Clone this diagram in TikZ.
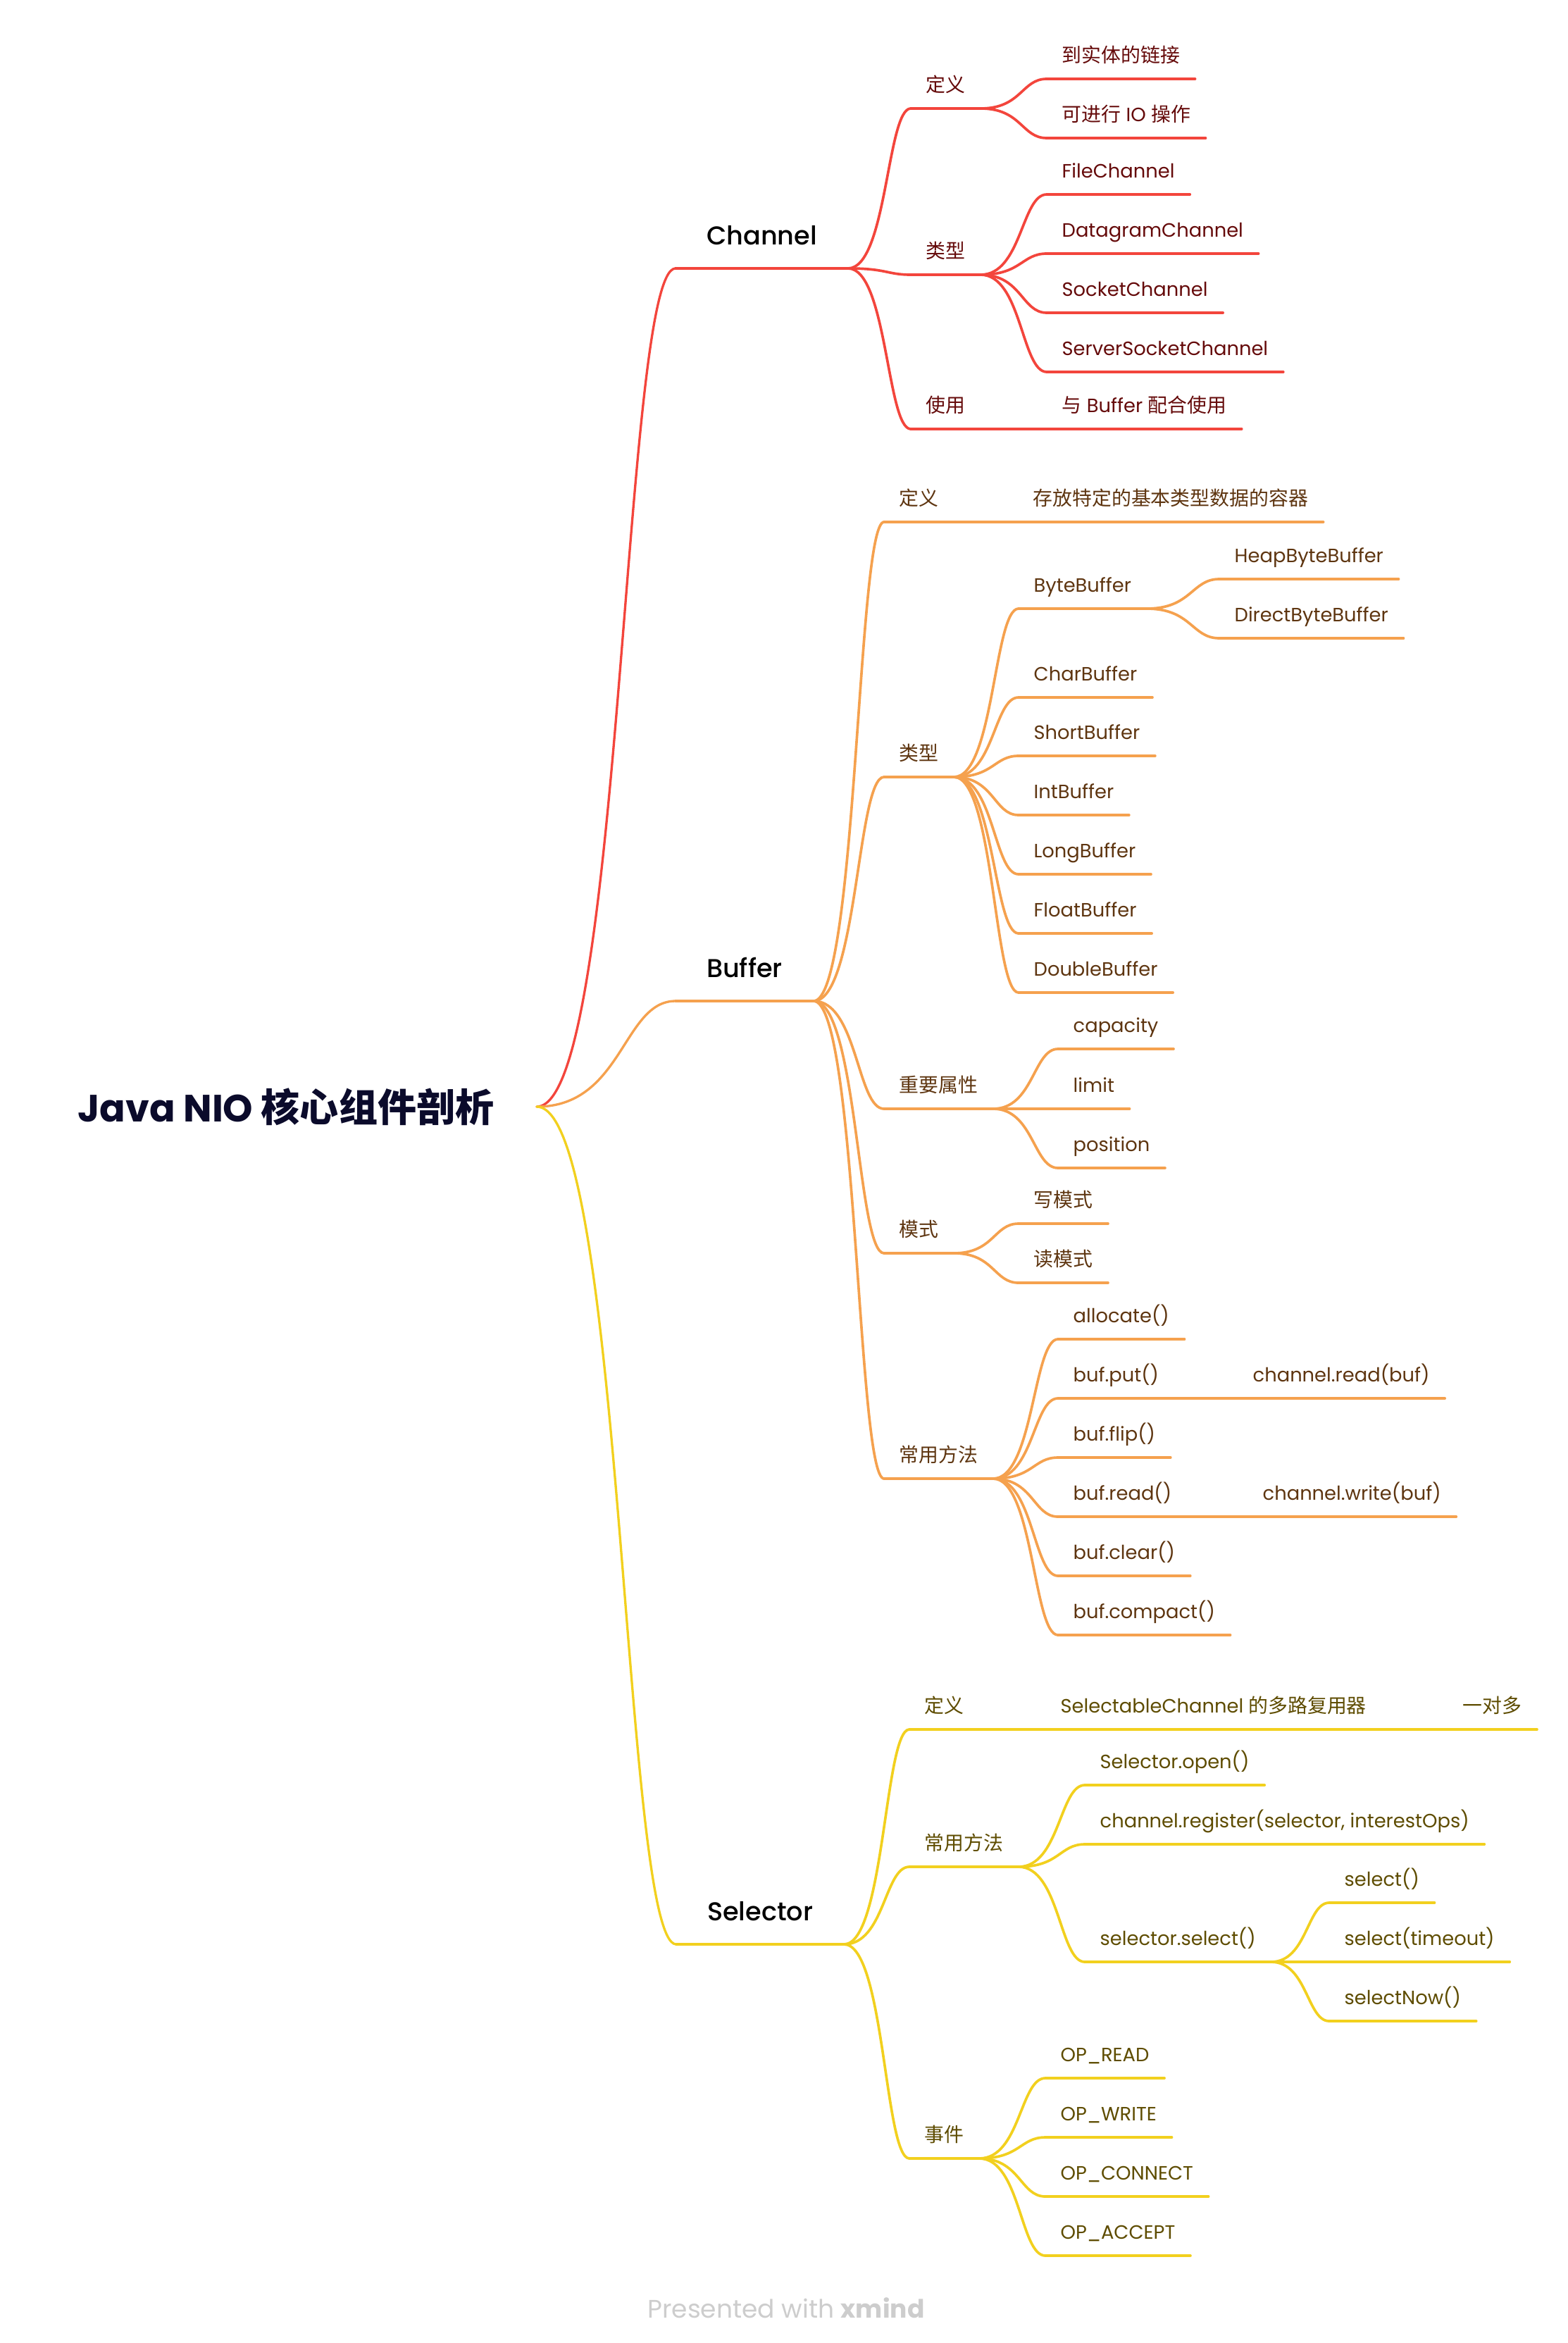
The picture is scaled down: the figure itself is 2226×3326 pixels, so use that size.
\documentclass[tikz,border=0pt]{standalone}
\usepackage{fontspec}
\setmainfont{Poppins}
\newfontfamily\cjk{Noto Sans CJK SC}[Scale=1.02]
\newfontfamily\medfont{Poppins Medium}
\usetikzlibrary{calc}
\definecolor{chred}{HTML}{F3453C}
\definecolor{chtxt}{HTML}{650A0A}
\definecolor{bforange}{HTML}{F5A14E}
\definecolor{bftxt}{HTML}{5E3510}
\definecolor{slyellow}{HTML}{F2D01E}
\definecolor{sltxt}{HTML}{5E4C00}
\definecolor{roottxt}{HTML}{0B0B2B}
\definecolor{footgray}{HTML}{CDCDCD}
\newcommand{\zh}[1]{{\cjk #1}}
\tikzset{
  branch/.style={to path={let \p1=(\tikztostart),\p2=(\tikztotarget) in
    .. controls ({0.38*\x1+0.62*\x2},\y1) and ({0.38*\x1+0.62*\x2},\y2) .. (\tikztotarget)}},
  wire/.style={line width=1.1pt,line cap=round},
  rootnode/.style={anchor=east,inner xsep=18pt,font=\fontsize{16.2}{19}\selectfont\bfseries,text=roottxt},
  mainnode/.style={anchor=south west,inner xsep=13pt,inner ysep=0pt,text height=8pt,text depth=9.9pt,font=\fontsize{11}{13}\medfont},
  subnode/.style={anchor=south west,inner xsep=6.3pt,inner ysep=0pt,text height=6.5pt,text depth=6.9pt,font=\fontsize{8.2}{10}\selectfont},
}
\begin{document}
\begin{tikzpicture}[x=0.3pt,y=-0.3pt]
\fill[white] (0,0) rectangle (2226,3326);
\useasboundingbox (0,0) rectangle (2226,3326);

\node[rootnode] (root) at (762,1571) {Java NIO \zh{核心组件剖析}};
\node[mainnode] (chan) at (959,381) {Channel};
\node[mainnode] (buf) at (959,1421) {Buffer};
\node[mainnode] (sel) at (960,2760) {Selector};

% Channel
\begin{scope}[every node/.append style={subnode,text=chtxt}]
\node (cDef) at (1293,154) {\zh{定义}};
\node (cTyp) at (1293,390) {\zh{类型}};
\node (cUse) at (1293,609) {\zh{使用}};
\node (cLink) at (1486,112) {\zh{到实体的链接}};
\node (cIO) at (1486,196) {\zh{可进行} IO \zh{操作}};
\node (cFile) at (1486,276) {FileChannel};
\node (cDgram) at (1486,360) {DatagramChannel};
\node (cSock) at (1486,444) {SocketChannel};
\node (cSrv) at (1486,528) {ServerSocketChannel};
\node (cWith) at (1486,609) {\zh{与} Buffer \zh{配合使用}};
\end{scope}
\foreach \n in {chan,cDef,cTyp,cUse,cLink,cIO,cFile,cDgram,cSock,cSrv,cWith}
  \draw[wire,chred] (\n.south west) -- (\n.south east);
\draw[wire,chred,line width=1pt] (root.east) to[branch] (chan.south west);
\foreach \a/\b in {chan/cDef,chan/cTyp,chan/cUse,cDef/cLink,cDef/cIO,cTyp/cFile,cTyp/cDgram,cTyp/cSock,cTyp/cSrv,cUse/cWith}
  \draw[wire,chred] (\a.south east) to[branch] (\b.south west);

% Buffer
\begin{scope}[every node/.append style={subnode,text=bftxt}]
\node (bDef) at (1255,741) {\zh{定义}};
\node (bTyp) at (1255,1103) {\zh{类型}};
\node (bAttr) at (1255,1574) {\zh{重要属性}};
\node (bMode) at (1255,1779) {\zh{模式}};
\node (bOps) at (1255,2099) {\zh{常用方法}};
\node (bBox) at (1445,741) {\zh{存放特定的基本类型数据的容器}};
\node (bByte) at (1446,864) {ByteBuffer};
\node (bHeap) at (1731,822) {HeapByteBuffer};
\node (bDirect) at (1731,906) {DirectByteBuffer};
\node (bChar) at (1446,990) {CharBuffer};
\node (bShort) at (1446,1073) {ShortBuffer};
\node (bInt) at (1446,1157) {IntBuffer};
\node (bLong) at (1446,1241) {LongBuffer};
\node (bFloat) at (1446,1325) {FloatBuffer};
\node (bDouble) at (1446,1409) {DoubleBuffer};
\node (bCap) at (1502,1489) {capacity};
\node (bLim) at (1502,1574) {limit};
\node (bPos) at (1502,1658) {position};
\node (bWr) at (1446,1737) {\zh{写模式}};
\node (bRd) at (1446,1821) {\zh{读模式}};
\node (bAlloc) at (1502,1901) {allocate()};
\node (bPut) at (1502,1985) {buf.put()};
\node (bFlip) at (1502,2069) {buf.flip()};
\node (bRead) at (1502,2153) {buf.read()};
\node (bClear) at (1502,2237) {buf.clear()};
\node (bComp) at (1502,2321) {buf.compact()};
\node (bChRd) at (1757,1985) {channel.read(buf)};
\node (bChWr) at (1771,2153) {channel.write(buf)};
\end{scope}
\foreach \n in {buf,bDef,bTyp,bAttr,bMode,bOps,bBox,bByte,bHeap,bDirect,bChar,bShort,bInt,bLong,bFloat,bDouble,bCap,bLim,bPos,bWr,bRd,bAlloc,bPut,bFlip,bRead,bClear,bComp,bChRd,bChWr}
  \draw[wire,bforange] (\n.south west) -- (\n.south east);
\draw[wire,bforange,line width=1pt] (root.east) to[branch] (buf.south west);
\foreach \a/\b in {buf/bDef,buf/bTyp,buf/bAttr,buf/bMode,buf/bOps,bDef/bBox,bTyp/bByte,bByte/bHeap,bByte/bDirect,bTyp/bChar,bTyp/bShort,bTyp/bInt,bTyp/bLong,bTyp/bFloat,bTyp/bDouble,bAttr/bCap,bAttr/bLim,bAttr/bPos,bMode/bWr,bMode/bRd,bOps/bAlloc,bOps/bPut,bOps/bFlip,bOps/bRead,bOps/bClear,bOps/bComp,bPut/bChRd,bRead/bChWr}
  \draw[wire,bforange] (\a.south east) to[branch] (\b.south west);

% Selector
\begin{scope}[every node/.append style={subnode,text=sltxt}]
\node (sDef) at (1291,2455) {\zh{定义}};
\node (sOps) at (1291,2650) {\zh{常用方法}};
\node (sEvt) at (1291,3064) {\zh{事件}};
\node (sMux) at (1484,2455) {SelectableChannel \zh{的多路复用器}};
\node (sMany) at (2055,2455) {\zh{一对多}};
\node (sOpen) at (1540,2534) {Selector.open()};
\node (sReg) at (1540,2618) {channel.register(selector, interestOps)};
\node (sSel) at (1540,2785) {selector.select()};
\node (sSel1) at (1887,2701) {select()};
\node (sSel2) at (1887,2785) {select(timeout)};
\node (sSel3) at (1887,2869) {selectNow()};
\node (sRead) at (1484,2950) {OP\_READ};
\node (sWrite) at (1484,3034) {OP\_WRITE};
\node (sConn) at (1484,3118) {OP\_CONNECT};
\node (sAcc) at (1484,3202) {OP\_ACCEPT};
\end{scope}
\foreach \n in {sel,sDef,sOps,sEvt,sMux,sMany,sOpen,sReg,sSel,sSel1,sSel2,sSel3,sRead,sWrite,sConn,sAcc}
  \draw[wire,slyellow] (\n.south west) -- (\n.south east);
\draw[wire,slyellow,line width=1pt] (root.east) to[branch] (sel.south west);
\foreach \a/\b in {sel/sDef,sel/sOps,sel/sEvt,sDef/sMux,sMux/sMany,sOps/sOpen,sOps/sReg,sOps/sSel,sSel/sSel1,sSel/sSel2,sSel/sSel3,sEvt/sRead,sEvt/sWrite,sEvt/sConn,sEvt/sAcc}
  \draw[wire,slyellow] (\a.south east) to[branch] (\b.south west);

\node[font=\fontsize{10.8}{12}\selectfont,text=footgray] (foot) at (1116,3276) {Presented with \textbf{xmind}};
\end{tikzpicture}
\end{document}
